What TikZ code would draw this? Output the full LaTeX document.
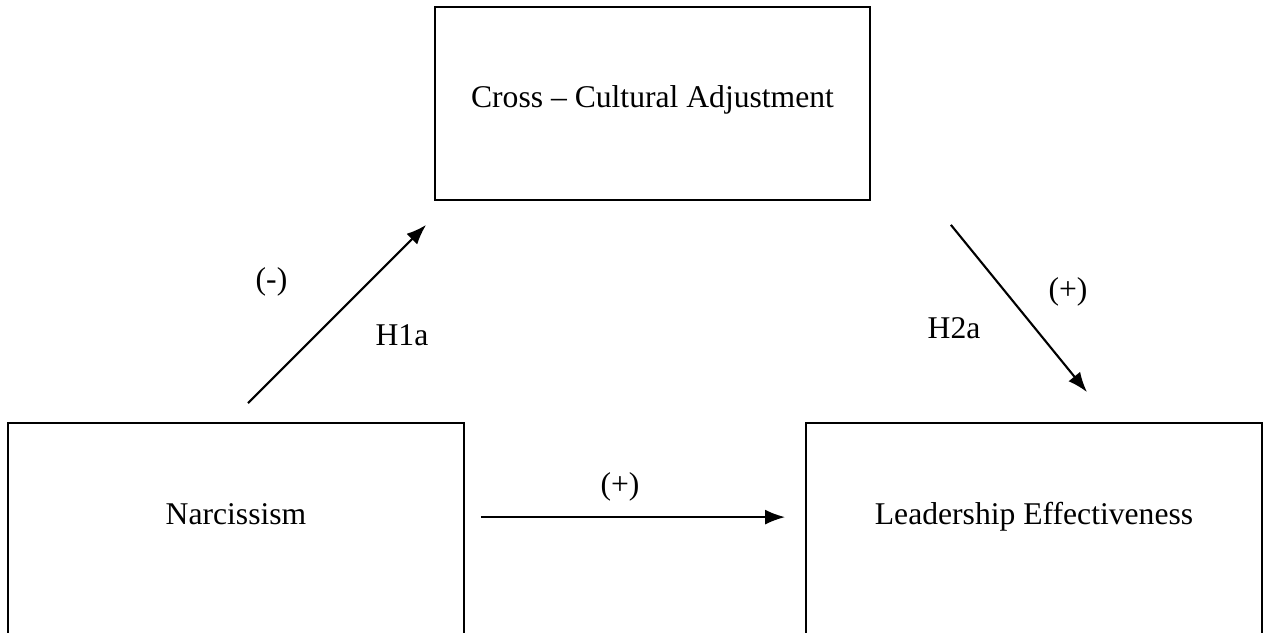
\documentclass[tikz,border=0pt]{standalone}
\usepackage{fontspec}
\setmainfont{Liberation Serif}
\usetikzlibrary{arrows.meta,calc,positioning}

\tikzset{
  varbox/.style={draw, line width=1pt, inner sep=0pt},
  vartext/.style={anchor=base, font=\fontsize{18}{22}\selectfont},
  hyparrow/.style={-{Latex[length=0.4cm,width=0.3cm]}, line width=1.2pt}
}

\begin{document}
\begin{tikzpicture}
\useasboundingbox (0,0) rectangle (25.26,12.64);
\clip (0,0) rectangle (25.26,12.64);

% Boxes
\node[varbox, minimum width=8.7cm, minimum height=3.86cm] (cca) at (13.05,10.57) {};
\node[varbox, minimum width=9.12cm, minimum height=5.18cm] (nar) at (4.72,1.59) {};
\node[varbox, minimum width=9.12cm, minimum height=5.18cm] (lead) at (20.68,1.59) {};

% Box texts
\node[vartext] (ccatext) at (13.05,10.48) {Cross -- Cultural Adjustment};
\node[vartext] (nartext) at (4.72,2.16) {Narcissism};
\node[vartext] (leadtext) at (20.68,2.16) {Leadership Effectiveness};

% Arrow ends
\coordinate (h1s) at ($(nar.north)+(0.24,0.38)$);
\coordinate (h1e) at ($(cca.south west)+(-0.16,-0.48)$);
\coordinate (h2s) at ($(cca.south east)+(1.60,-0.48)$);
\coordinate (h2e) at ($(lead.north)+(1.06,0.60)$);
\coordinate (ds) at ($(nar.north east)+(0.32,-1.90)$);
\coordinate (de) at ($(lead.north west)+(-0.40,-1.90)$);

% Arrows
\draw[hyparrow] (h1s) -- (h1e);
\draw[hyparrow] (h2s) -- (h2e);
\draw[hyparrow] (ds) -- (de);

% Labels
\node[vartext] (h1sign) at (5.43,6.84) {(-)};
\node[vartext] (h1name) at (8.04,5.72) {H1a};
\node[vartext] (h2sign) at (21.36,6.64) {(+)};
\node[vartext] (h2name) at (19.08,5.86) {H2a};
\node[vartext] (dsign) at (12.40,2.76) {(+)};

\end{tikzpicture}
\end{document}
